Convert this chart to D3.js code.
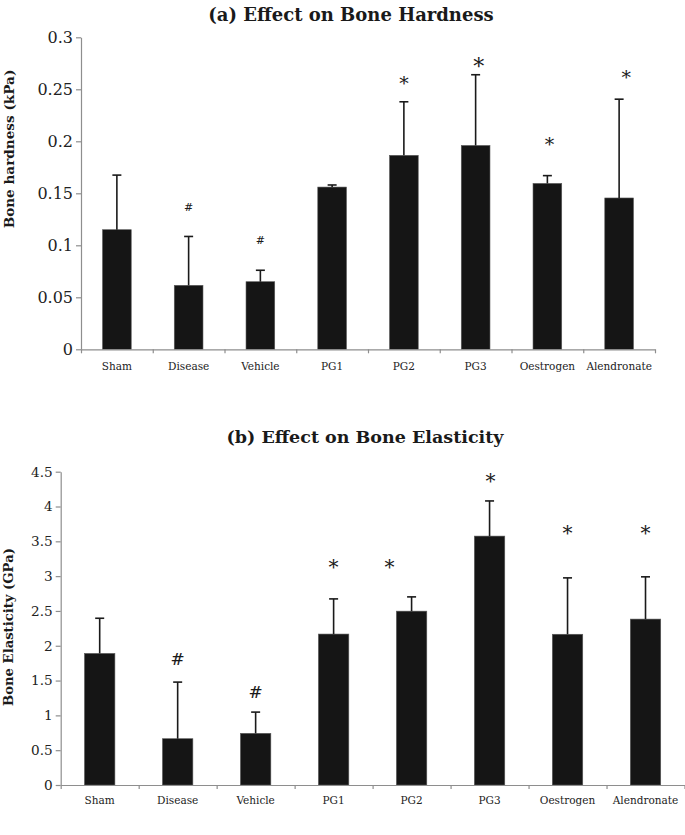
<!DOCTYPE html>
<html><head><meta charset="utf-8">
<script src="https://cdn.jsdelivr.net/npm/d3@7"></script>
<style>body{margin:0;background:#fff} svg{display:block}</style>
</head><body>
<svg id="c" width="685" height="835"></svg>
<script>
// ---------- data ----------
const categories = ["Sham","Disease","Vehicle","PG1","PG2","PG3","Oestrogen","Alendronate"];

const hardness      = [0.115, 0.0615, 0.065, 0.156, 0.1865, 0.196, 0.1595, 0.1455];
const hardnessErr   = [0.0525, 0.047, 0.011, 0.002, 0.0515, 0.068, 0.0075, 0.095];
const hardnessMarks = ["", "#", "#", "", "*", "*", "*", "*"];
const hardnessMarkAt = [null, 0.137, 0.105, null, 0.258, 0.2755, 0.1995, 0.2645];
const hardnessTicks = [0, 0.05, 0.1, 0.15, 0.2, 0.25, 0.3];
const hardnessTickLabels = ["0", "0.05", "0.1", "0.15", "0.2", "0.25", "0.3"];

const elasticity      = [1.89, 0.665, 0.742, 2.168, 2.497, 3.575, 2.165, 2.383];
const elasticityErr   = [0.505, 0.813, 0.305, 0.505, 0.205, 0.505, 0.81, 0.607];
const elasticityMarks = ["", "#", "#", "*", "*", "*", "*", "*"];
const elasticityMarkAt = [null, 1.805, 1.34, 3.17, 3.18, 4.41, 3.66, 3.66];
const elasticityTicks = [0, 0.5, 1, 1.5, 2, 2.5, 3, 3.5, 4, 4.5];
const elasticityTickLabels = ["0", "0.5", "1", "1.5", "2", "2.5", "3", "3.5", "4", "4.5"];

// ---------- layout ----------
const panels = [
  {
    title: "(a) Effect on Bone Hardness", titleX: 351, titleY: 21, titleSize: 18,
    ylabel: "Bone hardness (kPa)", ylabelX: 13.5, ylabelY: 149, ylabelSize: 13.6,
    values: hardness, errs: hardnessErr, marks: hardnessMarks, markAt: hardnessMarkAt,
    ticks: hardnessTicks, tickLabels: hardnessTickLabels,
    markDx: [0,0,0,0,0,3,2,7], starSize: [0,0,0,0,19,22,19,19], hashSize: 11,
    x0: 81, x1: 655, yTopPx: 37.3, yBotPx: 349.3, ymax: 0.3,
    tickFont: 16, catFont: 10.5, catY: 369.5, barFrac: 0.4
  },
  {
    title: "(b) Effect on Bone Elasticity", titleX: 365, titleY: 443, titleSize: 17.5,
    ylabel: "Bone Elasticity (GPa)", ylabelX: 12.5, ylabelY: 627, ylabelSize: 13.2,
    values: elasticity, errs: elasticityErr, marks: elasticityMarks, markAt: elasticityMarkAt,
    ticks: elasticityTicks, tickLabels: elasticityTickLabels,
    markDx: [0,0,0,0,-22,1,0,0], starSize: [0,0,0,20,20,20,20,20], hashSize: 17,
    x0: 60.7, x1: 684.5, yTopPx: 471.7, yBotPx: 785, ymax: 4.5,
    tickFont: 13.6, catFont: 10.5, catY: 804, barFrac: 0.39
  }
];

const svg = d3.select("#c");
const serif = "'DejaVu Serif', serif";
const axisColor = "#8e8e8e";
const barColor = "#151515";

panels.forEach(p => {
  const g = svg.append("g");
  const x = d3.scaleBand().domain(categories).range([p.x0, p.x1]).padding(0);
  const xi = d3.scaleLinear().domain([0, categories.length]).range([p.x0, p.x1]);
  const y = d3.scaleLinear().domain([0, p.ymax]).range([p.yBotPx, p.yTopPx]);
  const bw = x.bandwidth() * p.barFrac;
  const cx = c => x(c) + x.bandwidth() / 2;

  // title
  g.append("text").attr("x", p.titleX).attr("y", p.titleY)
    .attr("text-anchor", "middle").attr("font-family", serif)
    .attr("font-weight", "bold").attr("font-size", p.titleSize)
    .attr("fill", "#1a1a1a").text(p.title);

  // y label
  g.append("text")
    .attr("transform", `translate(${p.ylabelX},${p.ylabelY}) rotate(-90)`)
    .attr("text-anchor", "middle").attr("font-family", serif)
    .attr("font-weight", "bold").attr("font-size", p.ylabelSize)
    .attr("fill", "#1a1a1a").text(p.ylabel);

  // y axis
  const ya = g.append("g").attr("transform", `translate(${p.x0},0)`)
    .call(d3.axisLeft(y).tickValues(p.ticks)
      .tickFormat((d, i) => p.tickLabels[i]).tickSize(5).tickSizeOuter(0).tickPadding(3));
  ya.select(".domain").attr("stroke", axisColor).attr("stroke-width", 1.2);
  ya.selectAll(".tick line").attr("stroke", axisColor).attr("stroke-width", 1.2);
  ya.selectAll(".tick text").attr("font-family", serif).attr("font-size", p.tickFont)
    .attr("fill", "#222");

  // bars
  g.selectAll("rect.bar").data(categories).join("rect")
    .attr("x", c => cx(c) - bw / 2)
    .attr("y", (c, i) => y(p.values[i]))
    .attr("width", bw)
    .attr("height", (c, i) => y(0) - y(p.values[i]))
    .attr("fill", barColor).attr("stroke", "#5a5a5a").attr("stroke-width", 0.6);

  // error bars (upper only)
  const eb = g.append("g").attr("stroke", "#1a1a1a").attr("stroke-width", 1.6);
  categories.forEach((c, i) => {
    const top = y(p.values[i] + p.errs[i]);
    eb.append("line").attr("x1", cx(c)).attr("x2", cx(c))
      .attr("y1", y(p.values[i])).attr("y2", top);
    eb.append("line").attr("x1", cx(c) - 4.5).attr("x2", cx(c) + 4.5)
      .attr("y1", top).attr("y2", top);
  });

  // x axis
  const xa = g.append("g").attr("transform", `translate(0,${p.yBotPx})`)
    .call(d3.axisBottom(xi).tickValues(d3.range(0, categories.length + 1))
      .tickFormat("").tickSize(4).tickSizeOuter(0));
  xa.select(".domain").attr("stroke", axisColor).attr("stroke-width", 1.2);
  xa.selectAll(".tick line").attr("stroke", axisColor).attr("stroke-width", 1.2);

  g.selectAll("text.cat").data(categories).join("text")
    .attr("x", c => cx(c)).attr("y", p.catY)
    .attr("text-anchor", "middle").attr("font-family", serif)
    .attr("font-size", p.catFont).attr("fill", "#222").text(c => c);

  // significance marks
  categories.forEach((c, i) => {
    if (!p.marks[i]) return;
    const isStar = p.marks[i] === "*";
    g.append("text")
      .attr("x", cx(c) + p.markDx[i])
      .attr("y", y(p.markAt[i]))
      .attr("dy", isStar ? "0.5em" : "0.36em")
      .attr("text-anchor", "middle").attr("font-family", serif)
      .attr("font-size", isStar ? p.starSize[i] : p.hashSize)
      .attr("fill", "#1a1a1a").text(p.marks[i]);
  });
});
</script>
</body></html>
